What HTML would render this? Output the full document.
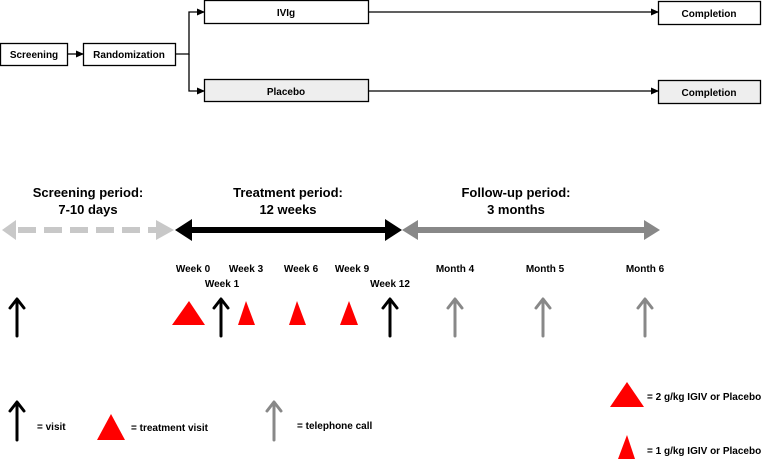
<!DOCTYPE html>
<html><head><style>body{margin:0;background:#fff}text{font-family:"Liberation Sans",sans-serif;font-weight:bold}</style></head><body>
<svg width="778" height="463" viewBox="0 0 778 463" xmlns="http://www.w3.org/2000/svg">
<defs>
<marker id="ah" markerWidth="8" markerHeight="8" refX="7" refY="4" orient="auto" markerUnits="userSpaceOnUse"><path d="M0,0.5 L8,4 L0,7.5z" fill="#000"/></marker>
</defs>
<g stroke="#000" stroke-width="1.3" fill="#fff">
<rect x="0.5" y="43.5" width="67" height="22"/>
<rect x="83.5" y="43.5" width="92" height="22"/>
<rect x="204.5" y="0.5" width="164" height="23"/>
<rect x="204.5" y="79.5" width="164" height="22" fill="#eee"/>
<rect x="658.5" y="1.5" width="102" height="23"/>
<rect x="658.5" y="80.5" width="102" height="23" fill="#eee"/>
</g>
<g stroke="#000" stroke-width="1.3" fill="none">
<line x1="67" y1="54" x2="83" y2="54" marker-end="url(#ah)"/>
<polyline points="175,54 189,54 189,12 204,12" marker-end="url(#ah)"/>
<polyline points="189,54 189,91 204,91" marker-end="url(#ah)"/>
<line x1="368" y1="12" x2="658" y2="12" marker-end="url(#ah)"/>
<line x1="368" y1="91" x2="658" y2="91" marker-end="url(#ah)"/>
</g>
<g font-size="10" text-anchor="middle">
<text x="34" y="58">Screening</text>
<text x="129" y="58">Randomization</text>
<text x="286" y="16">IVIg</text>
<text x="286" y="95">Placebo</text>
<text x="709" y="17">Completion</text>
<text x="709" y="96">Completion</text>
</g>
<g font-size="13" text-anchor="middle">
<text x="88" y="197">Screening period:</text>
<text x="88" y="214">7-10 days</text>
<text x="288" y="197">Treatment period:</text>
<text x="288" y="214">12 weeks</text>
<text x="516" y="197">Follow-up period:</text>
<text x="516" y="214">3 months</text>
</g>
<!-- period arrows -->
<line x1="18" y1="230" x2="160" y2="230" stroke="#c8c8c8" stroke-width="6" stroke-dasharray="18,8"/>
<path d="M2,230 L16,220 L16,240z" fill="#c8c8c8"/>
<path d="M174,230 L156,220 L156,240z" fill="#c8c8c8"/>
<line x1="185" y1="230" x2="392" y2="230" stroke="#000" stroke-width="6"/>
<path d="M175,230 L192,219 L192,241z" fill="#000"/>
<path d="M402,230 L385,219 L385,241z" fill="#000"/>
<line x1="412" y1="230" x2="650" y2="230" stroke="#888" stroke-width="6"/>
<path d="M402,230 L418,220 L418,240z" fill="#888"/>
<path d="M660,230 L644,220 L644,240z" fill="#888"/>
<g font-size="10" text-anchor="middle">
<text x="193" y="272">Week 0</text>
<text x="246" y="272">Week 3</text>
<text x="301" y="272">Week 6</text>
<text x="352" y="272">Week 9</text>
<text x="222" y="287">Week 1</text>
<text x="390" y="287">Week 12</text>
<text x="455" y="272">Month 4</text>
<text x="545" y="272">Month 5</text>
<text x="645" y="272">Month 6</text>
</g>
<g stroke-width="3" fill="none" stroke-linecap="round" stroke-linejoin="round">
<g stroke="#000">
<path d="M17,336 V300 M10,308 L17,299 L24,308"/>
<path d="M221,336 V300 M214,308 L221,299 L228,308"/>
<path d="M390,336 V300 M383,308 L390,299 L397,308"/>
<path d="M17,440 V403 M10,411 L17,402 L24,411"/>
</g>
<g stroke="#888">
<path d="M455,336 V300 M448,308 L455,299 L462,308"/>
<path d="M543,336 V300 M536,308 L543,299 L550,308"/>
<path d="M645,336 V300 M638,308 L645,299 L652,308"/>
<path d="M274,440 V403 M267,411 L274,402 L281,411"/>
</g>
</g>
<g fill="#f00">
<path d="M189,301 L205,325 L172,325z"/>
<path d="M246,301 L255,325 L238,325z"/>
<path d="M297,301 L306,325 L289,325z"/>
<path d="M349,301 L358,325 L340,325z"/>
<path d="M111,414 L125,440 L97,440z"/>
<path d="M627,382 L644,407 L610,407z"/>
<path d="M627,435 L635,459 L618,459z"/>
</g>
<g font-size="10">
<text x="37" y="430">= visit</text>
<text x="131" y="431">= treatment visit</text>
<text x="297" y="429">= telephone call</text>
<text x="647" y="400">= 2 g/kg IGIV or Placebo</text>
<text x="647" y="454">= 1 g/kg IGIV or Placebo</text>
</g>
</svg>
</body></html>
